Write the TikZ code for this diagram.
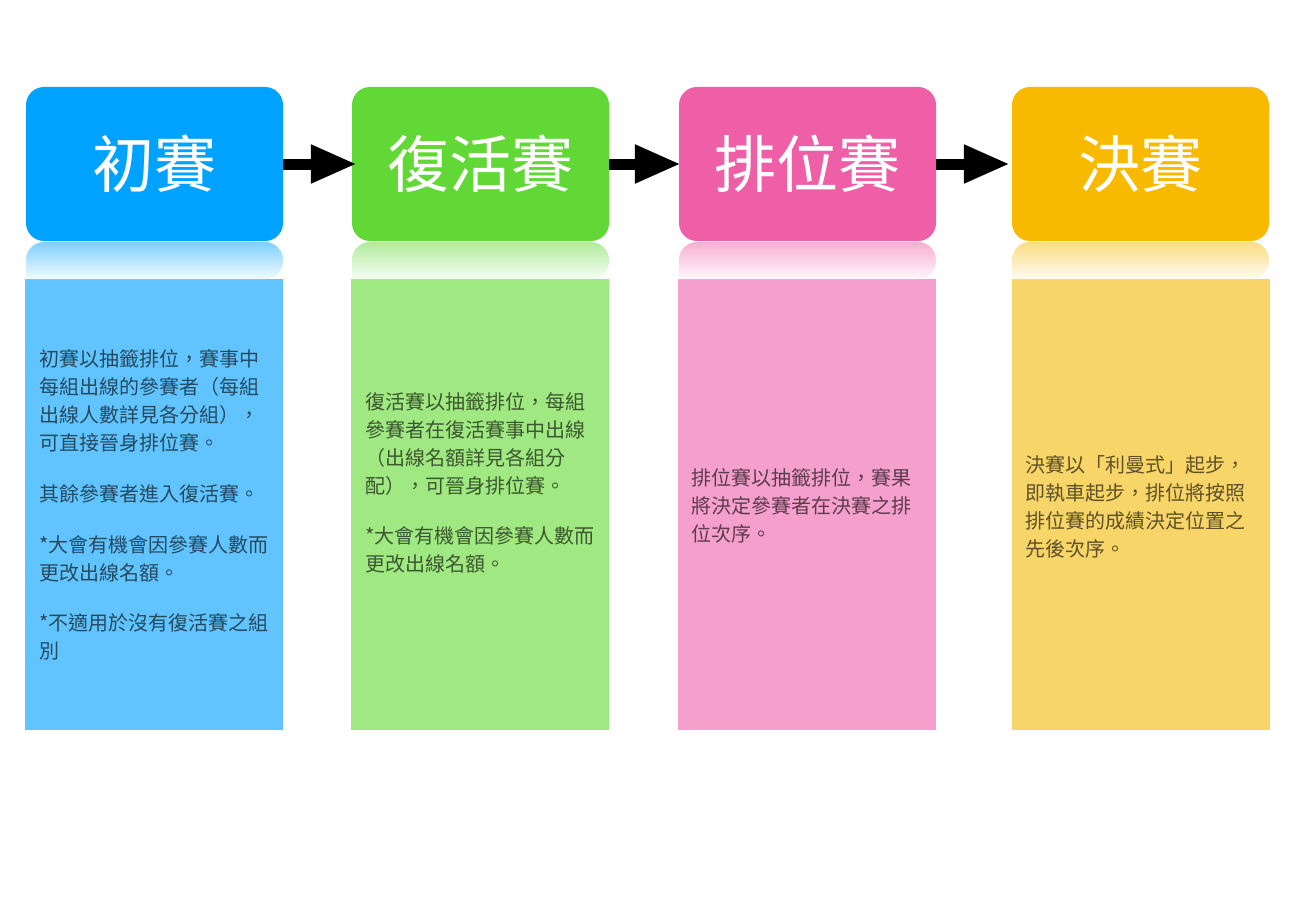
\documentclass[tikz,border=0pt]{standalone}
\usepackage{fontspec}
\setmainfont{Noto Sans CJK TC}
\usetikzlibrary{arrows.meta}
\definecolor{hblue}{HTML}{00A2FF}
\definecolor{bblue}{HTML}{61C4FE}
\definecolor{hgreen}{HTML}{61D836}
\definecolor{bgreen}{HTML}{A0E881}
\definecolor{hpink}{HTML}{EF5FA7}
\definecolor{bpink}{HTML}{F59FCC}
\definecolor{hyellow}{HTML}{F8BA00}
\definecolor{byellow}{HTML}{F8D568}
\tikzset{
  header/.style={rounded corners=18pt, minimum width=257pt, minimum height=154pt, inner sep=0pt, text=white, font=\fontsize{62}{70}\selectfont},
  flowarrow/.style={line width=11pt, -{Triangle[length=46pt,width=36pt]}},
  bodytext/.style={anchor=north west, inner sep=0pt, align=left, text=black, text opacity=0.62, font=\fontsize{20}{28}\selectfont},
}
\begin{document}
\begin{tikzpicture}[x=1pt,y=-1pt]
\useasboundingbox (0,0) rectangle (1295,915);
\fill[white] (0,0) rectangle (1295,915);
% body panels
\fill[bblue] (25,279) rectangle (283,730);
\fill[bgreen] (351,279) rectangle (609,730);
\fill[bpink] (678,279) rectangle (936,730);
\fill[byellow] (1012,279) rectangle (1270,730);
% reflections
\shade[top color=hblue!50!white, bottom color=hblue!5!white, rounded corners=18pt] (26,279) -- (26,242) -- (283,242) -- (283,279) [sharp corners] -- cycle;
\shade[top color=hgreen!50!white, bottom color=hgreen!5!white, rounded corners=18pt] (352,279) -- (352,242) -- (609,242) -- (609,279) [sharp corners] -- cycle;
\shade[top color=hpink!50!white, bottom color=hpink!5!white, rounded corners=18pt] (679,279) -- (679,242) -- (936,242) -- (936,279) [sharp corners] -- cycle;
\shade[top color=hyellow!50!white, bottom color=hyellow!5!white, rounded corners=18pt] (1012,279) -- (1012,242) -- (1269,242) -- (1269,279) [sharp corners] -- cycle;
% headers
\node[header, fill=hblue] (b1) at (154.5,164) {初賽};
\node[header, fill=hgreen] (b2) at (480.5,164) {復活賽};
\node[header, fill=hpink] (b3) at (807.5,164) {排位賽};
\node[header, fill=hyellow] (b4) at (1140.5,164) {決賽};
% arrows
\draw[flowarrow] (b1.east) -- ([xshift=5pt]b2.west);
\draw[flowarrow] (b2.east) -- ([xshift=2pt]b3.west);
\draw[flowarrow] (b3.east) -- ([xshift=-2pt]b4.west);
% texts
\node[bodytext] (t1) at (39,349) {初賽以抽籤排位，賽事中\\每組出線的參賽者（每組\\出線人數詳見各分組），\\可直接晉身排位賽。\\[23pt]其餘參賽者進入復活賽。\\[23pt]*大會有機會因參賽人數而\\更改出線名額。\\[22pt]*不適用於沒有復活賽之組\\別};
\node[bodytext] (t2) at (365,392) {復活賽以抽籤排位，每組\\參賽者在復活賽事中出線\\（出線名額詳見各組分\\配），可晉身排位賽。\\[22pt]*大會有機會因參賽人數而\\更改出線名額。};
\node[bodytext] (t3) at (691,468) {排位賽以抽籤排位，賽果\\將決定參賽者在決賽之排\\位次序。};
\node[bodytext] (t4) at (1025,455) {決賽以「利曼式」起步，\\即執車起步，排位將按照\\排位賽的成績決定位置之\\先後次序。};
\end{tikzpicture}
\end{document}
